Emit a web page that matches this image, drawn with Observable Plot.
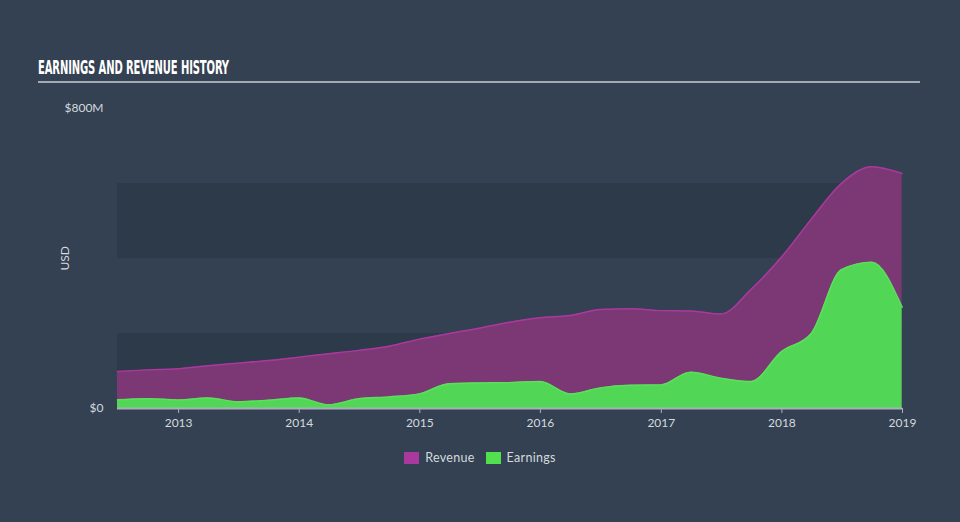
<!DOCTYPE html>
<html>
<head>
<meta charset="utf-8">
<script src="https://cdn.jsdelivr.net/npm/d3@7"></script>
<script src="https://cdn.jsdelivr.net/npm/@observablehq/plot@0.6"></script>
<style>
  html, body { margin: 0; padding: 0; background: #334152; width: 960px; height: 522px; overflow: hidden; position: relative; }
  #title { position: absolute; left: 38px; top: 56px; font-family: "Liberation Sans Narrow", "DejaVu Sans Condensed", sans-serif; font-weight: bold; font-size: 19px; color: #ffffff; transform-origin: left top; white-space: nowrap; letter-spacing: -0.2px; }
  #rule { position: absolute; left: 38px; top: 81px; width: 882px; height: 2px; background: #a3aab3; }
  #chart { position: absolute; left: 0; top: 90px; }
  #legend { position: absolute; top: 450px; left: 0; width: 960px; display: flex; justify-content: center; font-family: Lato, "Open Sans", sans-serif; font-size: 12.5px; color: #d5d9de; letter-spacing: 0.3px; }
  .item { display: flex; align-items: center; margin: 0 5.5px; }
  .sw { width: 15px; height: 12px; margin-right: 6px; }
</style>
</head>
<body>
<div id="title">EARNINGS AND REVENUE HISTORY</div>
<div id="rule"></div>
<div id="chart"></div>
<div id="legend"></div>
<script>
// Quarter-end dates
const dates = ["2012-06-30","2012-09-30","2012-12-31","2013-03-31","2013-06-30","2013-09-30","2013-12-31",
  "2014-03-31","2014-06-30","2014-09-30","2014-12-31","2015-03-31","2015-06-30","2015-09-30","2015-12-31",
  "2016-03-31","2016-06-30","2016-09-30","2016-12-31","2017-03-31","2017-06-30","2017-09-30","2017-12-31",
  "2018-03-31","2018-06-30","2018-09-30","2018-12-31"];
// Values in $M
const revenue = [99,103,106,114,121,128,137,146,155,166,185,200,214,230,242,248,264,266,261,260,252,318,404,505,600,645,627];
const earnings = [23,26,23,28,18,22,28,10,26,31,39,66,68,69,72,39,55,62,63,97,81,72,152,200,370,390,270];
const bandLow = [0,400];
const bandHigh = [200,600];
const yTicks = [0,800];
const yTickLabels = ["$0","$800M"];
const yLabel = "USD";
const xTicks = [2013,2014,2015,2016,2017,2018,2019];
const seriesNames = ["Revenue","Earnings"];
const seriesColors = ["#a9399e","#52e04f"];

const rows = dates.map((d,i) => ({date: new Date(d), revenue: revenue[i], earnings: earnings[i]}));
const x0 = new Date(dates[0]);
const x1 = new Date("2019-01-01");
const bands = bandLow.map((lo,i) => ({lo, hi: bandHigh[i]}));

const plot = Plot.plot({
  width: 960, height: 350,
  marginLeft: 117, marginRight: 58, marginTop: 18, marginBottom: 32,
  style: {background: "transparent", fontFamily: "Lato, 'Open Sans', sans-serif", fontSize: "12px", color: "#d5d9de", overflow: "visible"},
  x: {type: "utc", domain: [x0, x1]},
  y: {domain: [0, 800]},
  marks: [
    Plot.rect(bands, {x1: () => x0, x2: () => x1, y1: "lo", y2: "hi", fill: "#2d3a4a"}),
    Plot.areaY(rows, {x: "date", y: "revenue", fill: "#7b3874", curve: "monotone-x"}),
    Plot.lineY(rows, {x: "date", y: "revenue", stroke: "#a9399e", strokeWidth: 1.5, curve: "monotone-x"}),
    Plot.areaY(rows, {x: "date", y: "earnings", fill: "#52d655", curve: "monotone-x"}),
    Plot.lineY(rows, {x: "date", y: "earnings", stroke: "#5ae05a", strokeWidth: 1.5, curve: "monotone-x"}),
    Plot.ruleY([0], {stroke: "#a9b0bb", strokeWidth: 2}),
    Plot.axisX(xTicks.map(y => new Date(Date.UTC(y,0,1))), {tickFormat: d3.utcFormat("%Y"), tickSize: 5, stroke: "#a9b0bb", tickPadding: 5, fill: "#d5d9de", label: null}),
    Plot.axisY(yTicks, {tickSize: 0, tickPadding: 14, tickFormat: (d) => yTickLabels[yTicks.indexOf(d)], fill: "#d5d9de", label: null}),
    Plot.text([yLabel], {frameAnchor: "left", dx: -52, dy: 12, rotate: -90, fill: "#d5d9de", fontSize: 12, text: d => d})
  ]
});
document.getElementById("chart").appendChild(plot);

const legend = document.getElementById("legend");
seriesNames.forEach((n,i) => {
  const it = document.createElement("div"); it.className = "item";
  const sw = document.createElement("div"); sw.className = "sw"; sw.style.background = seriesColors[i];
  const t = document.createElement("span"); t.textContent = n;
  it.appendChild(sw); it.appendChild(t); legend.appendChild(it);
});

// fit title width to reference (~191px)
const title = document.getElementById("title");
const w = title.getBoundingClientRect().width;
title.style.transform = `scaleX(${191 / w})`;
</script>
</body>
</html>
